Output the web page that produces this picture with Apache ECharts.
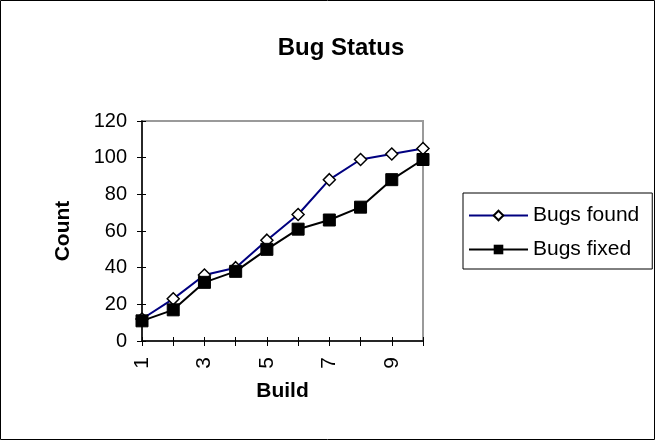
<!DOCTYPE html>
<html>
<head>
<meta charset="utf-8">
<script src="https://cdn.jsdelivr.net/npm/echarts@6/dist/echarts.min.js"></script>
<style>
  html, body { margin: 0; padding: 0; background: #fff; }
  #main { width: 655px; height: 440px; }
</style>
</head>
<body>
<div id="main"></div>
<script>
const builds = ['1', '2', '3', '4', '5', '6', '7', '8', '9', '10'];
const bugsFound = [12, 23, 36, 40, 55, 69, 88, 99, 102, 105];
const bugsFixed = [11, 17, 32, 38, 50, 61, 66, 73, 88, 99];
const yTicks = { min: 0, max: 120, interval: 20 };

const font = 'Liberation Sans, Arial, sans-serif';
const chart = echarts.init(document.getElementById('main'));

// excel-style ticks cross the axis line: an outer axis + a second one with inner ticks
const tickStyle = { color: '#000', width: 1 };

chart.setOption({
  animation: false,
  title: {
    text: 'Bug Status',
    left: 336,
    textAlign: 'center',
    top: 31,
    textStyle: { fontFamily: font, fontSize: 24, fontWeight: 'bold', color: '#000' }
  },
  graphic: [{
    type: 'rect',
    shape: { x: 0.5, y: 0.5, width: 654, height: 439 },
    style: { fill: 'none', stroke: '#000', lineWidth: 1 },
    silent: true
  }],
  legend: {
    orient: 'vertical',
    left: 463,
    top: 193,
    padding: [12, 13, 9, 5],
    itemGap: 13,
    itemWidth: 59,
    itemHeight: 12,
    borderColor: '#000',
    borderWidth: 1,
    textStyle: { fontFamily: font, fontSize: 21, color: '#000' },
    data: ['Bugs found', 'Bugs fixed']
  },
  grid: {
    left: 142,
    right: 232,
    top: 121,
    bottom: 99,
    show: true,
    borderColor: '#9a9a9a',
    borderWidth: 2,
    backgroundColor: '#fff'
  },
  xAxis: [
    {
      type: 'category',
      data: builds,
      boundaryGap: false,
      name: 'Build',
      nameLocation: 'middle',
      nameGap: 40,
      nameTextStyle: { fontFamily: font, fontSize: 21, fontWeight: 'bold', color: '#000' },
      axisLine: { lineStyle: { color: '#000', width: 1.5 } },
      axisTick: { interval: 0, length: 5, lineStyle: tickStyle },
      axisLabel: {
        interval: 1,
        rotate: 90,
        margin: 16,
        fontFamily: font,
        fontSize: 21,
        color: '#000'
      },
      splitLine: { show: false }
    },
    {
      type: 'category',
      data: builds,
      boundaryGap: false,
      position: 'bottom',
      axisLine: { show: false },
      axisTick: { interval: 0, inside: true, length: 4, lineStyle: tickStyle },
      axisLabel: { show: false },
      splitLine: { show: false }
    }
  ],
  yAxis: [
    {
      type: 'value',
      min: yTicks.min,
      max: yTicks.max,
      interval: yTicks.interval,
      name: 'Count',
      nameLocation: 'middle',
      nameGap: 68,
      nameRotate: 90,
      nameTextStyle: { fontFamily: font, fontSize: 21, fontWeight: 'bold', color: '#000' },
      axisLine: { show: true, lineStyle: { color: '#000', width: 1.5 } },
      axisTick: { show: true, length: 5, lineStyle: tickStyle },
      axisLabel: { margin: 15, fontFamily: font, fontSize: 20, color: '#000' },
      splitLine: { show: false }
    },
    {
      type: 'value',
      min: yTicks.min,
      max: yTicks.max,
      interval: yTicks.interval,
      position: 'left',
      axisLine: { show: false },
      axisTick: { show: true, inside: true, length: 4, lineStyle: tickStyle },
      axisLabel: { show: false },
      splitLine: { show: false }
    }
  ],
  series: [
    {
      name: 'Bugs found',
      type: 'line',
      data: bugsFound,
      symbol: 'diamond',
      symbolSize: 12,
      z: 3,
      lineStyle: { color: '#000080', width: 2 },
      itemStyle: { color: '#fff', borderColor: '#000', borderWidth: 1.5 }
    },
    {
      name: 'Bugs fixed',
      type: 'line',
      data: bugsFixed,
      symbol: 'rect',
      symbolSize: 12,
      z: 4,
      lineStyle: { color: '#000', width: 2 },
      itemStyle: { color: '#000', borderColor: '#000' }
    }
  ]
});
</script>
</body>
</html>
